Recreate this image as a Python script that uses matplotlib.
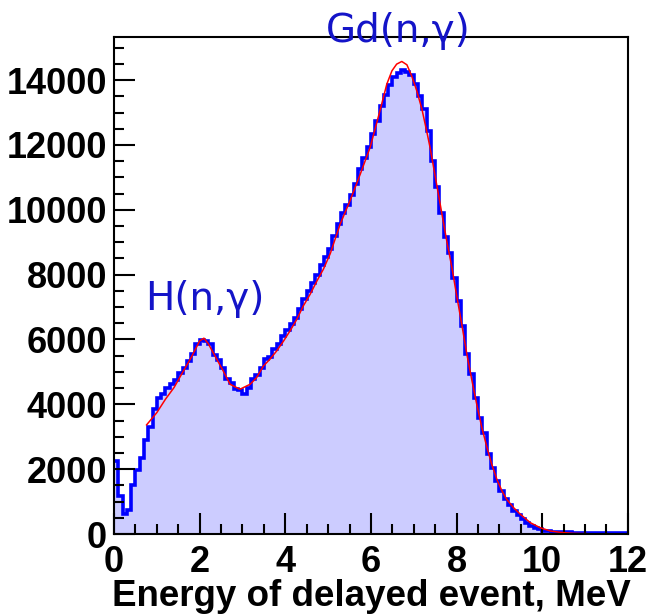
import numpy as np
import matplotlib.pyplot as plt
from matplotlib.ticker import MultipleLocator

# histogram: 120 bins of 0.1 MeV from 0 to 12
bin_edges = np.linspace(0, 12, 121)
counts = [
    2250, 1170, 620, 740, 1510, 1960, 2350, 2900, 3300, 3850,
    4200, 4320, 4500, 4620, 4740, 4970, 5110, 5340, 5560, 5850,
    5980, 5950, 5850, 5520, 5360, 5130, 4780, 4670, 4470, 4430,
    4330, 4510, 4770, 4920, 5110, 5390, 5460, 5700, 5850, 6110,
    6300, 6480, 6650, 6950, 7250, 7500, 7750, 8000, 8300, 8550,
    8800, 9200, 9550, 9900, 10150, 10450, 10800, 11250, 11600, 11950,
    12350, 12750, 13200, 13550, 13850, 14100, 14220, 14300, 14260, 14150,
    13875, 13515, 13105, 12440, 11500, 10700, 9900, 9150, 8680, 7910,
    7190, 6420, 5545, 4930, 4210, 3590, 3130, 2460, 2050, 1640,
    1330, 1070, 880, 700, 580, 450, 340, 250, 190, 140,
    105, 85, 70, 60, 55, 50, 48, 45, 42, 40,
    38, 36, 34, 32, 30, 28, 27, 26, 25, 24,
]

# fit curve
fit_x = [0.76, 1.0, 1.2, 1.4, 1.6, 1.8, 2.0, 2.1, 2.2, 2.4, 2.55, 2.71,
         2.94, 3.18, 3.33, 3.49, 3.64, 3.80, 3.96, 4.11, 4.27, 4.42, 4.58,
         4.74, 4.89, 5.05, 5.28, 5.51, 5.75, 5.98, 6.21, 6.37, 6.49, 6.60,
         6.72, 6.84, 6.95, 7.07, 7.19, 7.30, 7.38, 7.77, 7.89, 8.01, 8.12,
         8.24, 8.36, 8.47, 8.59, 8.71, 8.82, 8.94, 9.06, 9.17, 9.33, 9.49,
         9.72, 9.95, 10.19, 10.42, 10.73, 11.04]
fit_y = [3365, 3745, 4155, 4515, 4980, 5440, 5955, 6040, 5875, 5390, 5030,
         4620, 4465, 4620, 4825, 5185, 5390, 5650, 5955, 6265, 6625, 7035,
         7395, 7810, 8170, 8650, 9556, 10276, 11100, 11922, 13054, 13876,
         14288, 14494, 14576, 14473, 14134, 13671, 13105, 12437, 11923, 9040,
         8220, 7293, 6470, 5545, 4722, 4002, 3281, 2664, 2150, 1687, 1327,
         1070, 813, 607, 350, 195, 93, 51, 20, 10]

plt.rcParams['font.family'] = ['Liberation Sans', 'DejaVu Sans']

fig = plt.figure(figsize=(6.5, 6.15), dpi=100)
ax = fig.add_axes([0.1754, 0.1317, 0.7906, 0.8081])

ax.stairs(counts, bin_edges, fill=True, color='#ccccff', lw=0)
ax.stairs(counts, bin_edges, color='#0000ff', lw=2.6, baseline=None)
ax.plot(fit_x, fit_y, color='#ff0000', lw=1.1)

ax.set_xlim(0, 12)
ax.set_ylim(0, 15330)

ax.xaxis.set_major_locator(MultipleLocator(2))
ax.xaxis.set_minor_locator(MultipleLocator(0.5))
ax.yaxis.set_major_locator(MultipleLocator(2000))
ax.yaxis.set_minor_locator(MultipleLocator(500))
ax.tick_params(which='both', direction='in', width=1.5, top=False, right=False,
               labelsize=26)
ax.tick_params(which='major', length=15)
ax.tick_params(which='minor', length=7.5)
ax.tick_params(axis='y', pad=5)
ax.tick_params(axis='x', pad=8)
for lbl in ax.get_xticklabels() + ax.get_yticklabels():
    lbl.set_fontweight('bold')
for s in ax.spines.values():
    s.set_linewidth(1.5)

ax.set_xlabel('Energy of delayed event, MeV', fontsize=26.5, fontweight='bold',
              labelpad=-1)

ax.text(2.13, 7250, 'H(n,γ)', color='#1414c8', fontsize=28,
        family=['DejaVu Sans'], ha='center', va='center')
ax.text(6.64, 15520, 'Gd(n,γ)', color='#1414c8', fontsize=28,
        family=['DejaVu Sans'], ha='center', va='center')

fig.savefig('out.png', dpi=100)
